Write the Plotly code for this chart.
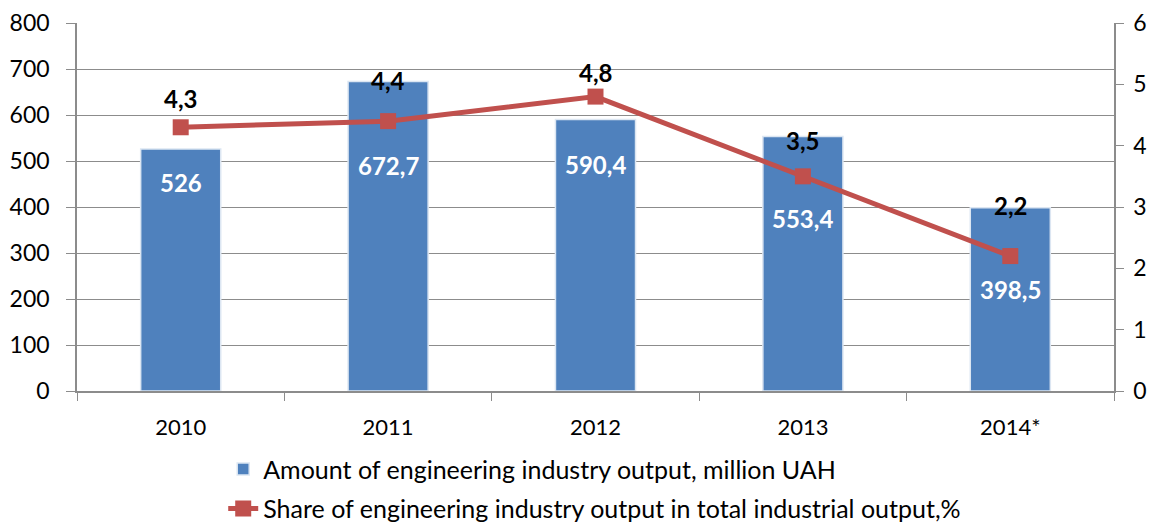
import plotly.graph_objects as go

years = ["2010", "2011", "2012", "2013", "2014*"]
output_muah = [526, 672.7, 590.4, 553.4, 398.5]
share_pct = [4.3, 4.4, 4.8, 3.5, 2.2]
bar_labels = ["526", "672,7", "590,4", "553,4", "398,5"]
share_labels = ["4,3", "4,4", "4,8", "3,5", "2,2"]

# label placement (positions only)
bar_label_y = [454, 491, 493, 374, 220]
share_label_shift = [29, 41, 24, 36, 51]

FONT = "Lato"
BLUE = "#4F81BD"
RED = "#C0504D"
GRID = "#8C8C8C"

fig = go.Figure()
fig.add_trace(go.Bar(
    x=years, y=output_muah, name="Amount of engineering industry output, million UAH",
    marker=dict(color=BLUE, line=dict(color="#DCE6F2", width=1.5)),
    width=0.386, yaxis="y", legendgroup="a",
))
fig.add_trace(go.Scatter(
    x=years, y=share_pct, name="Share of engineering industry output in total industrial output,%",
    mode="lines+markers", line=dict(color=RED, width=5),
    marker=dict(symbol="square", size=16, color=RED),
    yaxis="y2", legendgroup="b",
))

annotations = []
for i, (yv, t) in enumerate(zip(bar_label_y, bar_labels)):
    annotations.append(dict(x=i, y=yv, xref="x", yref="y", text=f"<b>{t}</b>",
                            showarrow=False, font=dict(family=FONT, size=24, color="white")))
for i, (yv, t, s) in enumerate(zip(share_pct, share_labels, share_label_shift)):
    annotations.append(dict(x=i, y=yv, xref="x", yref="y2", text=f"<b>{t}</b>",
                            showarrow=False, yshift=s, font=dict(family=FONT, size=24, color="black")))

fig.update_layout(
    width=1161, height=560,
    margin=dict(l=69, r=55, t=15, b=177),
    plot_bgcolor="white", paper_bgcolor="white",
    font=dict(family=FONT, size=22, color="black"),
    xaxis=dict(type="category", categoryorder="array", categoryarray=years,
               range=[-0.5, len(years) - 0.5], autorange=False, automargin=False,
               showline=True, linecolor=GRID, linewidth=1.5,
               ticks="outside", tickson="boundaries", ticklen=8, tickcolor=GRID,
               tickfont=dict(size=22), ticklabelstandoff=16, showgrid=False),
    yaxis=dict(range=[0, 800], dtick=100, showgrid=True, gridcolor=GRID, gridwidth=1.2,
               showline=True, linecolor=GRID, linewidth=1.5, ticks="outside", ticklen=9,
               tickcolor=GRID, tickfont=dict(size=23), ticklabelstandoff=12,
               zeroline=False, automargin=False),
    yaxis2=dict(range=[0, 6], dtick=1, overlaying="y", side="right", showgrid=False,
                showline=True, linecolor=GRID, linewidth=1.5, ticks="outside", ticklen=8,
                tickcolor=GRID, tickfont=dict(size=23), ticklabelstandoff=5,
                zeroline=False, automargin=False),
    legend=dict(orientation="v", x=0.141, xanchor="left", y=-0.15, yanchor="top",
                font=dict(size=25), tracegroupgap=4, bgcolor="rgba(0,0,0,0)"),
    annotations=annotations,
)

fig.write_html("out.html")
